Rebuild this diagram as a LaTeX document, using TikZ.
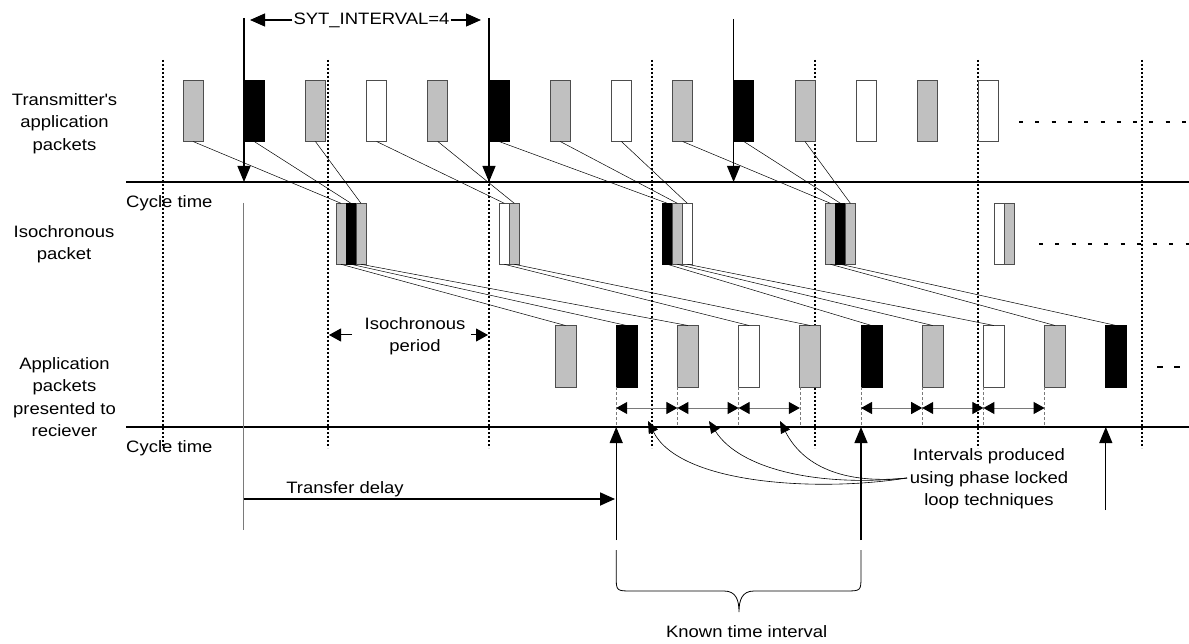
\documentclass[tikz,border=0pt]{standalone}
\usepackage{fontspec}
\setmainfont{Liberation Sans}[FakeStretch=1.12]
\usetikzlibrary{arrows.meta}
\definecolor{pktgray}{HTML}{C0C0C0}
\definecolor{pktedge}{HTML}{4D4D4D}
\definecolor{dimgray}{HTML}{7A7A7A}
\begin{document}
\begin{tikzpicture}[x=1pt,y=-1pt,
  font=\fontsize{16.5pt}{22.5pt}\selectfont,
  pk/.style={draw=pktedge, line width=0.7pt, minimum width=20pt, minimum height=61.5pt, inner sep=0pt, outer sep=0pt, anchor=north west},
  pkg/.style={pk, fill=pktgray},
  pkb/.style={pk, fill=black, draw=black},
  pkw/.style={pk, fill=white},
  sb/.style={draw=pktedge, line width=0.7pt, minimum width=10pt, minimum height=61pt, inner sep=0pt, outer sep=0pt, anchor=north west},
  sbg/.style={sb, fill=pktgray},
  sbb/.style={sb, fill=black, draw=black},
  sbw/.style={sb, fill=white},
  link/.style={line width=0.5pt},
  cycleline/.style={line width=2pt},
  vdots/.style={line width=1.5pt, dash pattern=on 2pt off 2pt},
  hdots/.style={line width=2pt, dash pattern=on 4pt off 12.3pt},
  hdotslow/.style={line width=2pt, dash pattern=on 6pt off 11pt},
  bigarrow/.style={line width=1.2pt, -{Triangle[length=16pt,width=13pt]}},
  fatarrow/.style={line width=1.8pt, -{Triangle[length=15pt,width=13pt]}},
  smallarrow/.style={line width=1pt, -{Triangle[length=12pt,width=13pt]}},
  marker/.style={line width=0.6pt, draw=dimgray, dash pattern=on 3pt off 2pt},
  dbl/.style={line width=1pt, draw=dimgray, {Triangle[length=11pt,width=12pt,color=black]}-{Triangle[length=11pt,width=12pt,color=black]}},
  curv/.style={line width=0.6pt, -{Triangle[length=12pt,width=10pt]}},
  lbl/.style={align=center, inner sep=0pt}
]
\fill[white] (0,0) rectangle (1189,644);
\useasboundingbox (0,0) rectangle (1189,644);

% cycle boundaries (dotted)
\foreach \x in {163,328,489,652,815,978,1142}
  \draw[vdots] (\x,60) -- (\x,448);

% cycle time lines
\coordinate (c1l) at (126,182); \coordinate (c1r) at (1189,182);
\coordinate (c2l) at (126,427); \coordinate (c2r) at (1189,427);
\draw[cycleline] (c1l) -- (c1r);
\draw[cycleline] (c2l) -- (c2r);

% transmitter packets
\foreach \c [count=\i from 0] in {g,b,g,w,g,b,g,w,g,b,g,w,g,w}
  \node[pk\c] (t\i) at ({183+61.2*\i},80) {};

% isochronous packets
\node[sbg] (i1a) at (336,203.3) {};
\node[sbb] (i1b) at (346,203.3) {};
\node[sbg] (i1c) at (356,203.3) {};
\node[sbw] (i2a) at (499.3,203.3) {};
\node[sbg] (i2b) at (509.3,203.3) {};
\node[sbb] (i3a) at (662.3,203.3) {};
\node[sbg] (i3b) at (672.3,203.3) {};
\node[sbw] (i3c) at (682.3,203.3) {};
\node[sbg] (i4a) at (825.4,203.3) {};
\node[sbb] (i4b) at (835.4,203.3) {};
\node[sbg] (i4c) at (845.4,203.3) {};
\node[sbw] (i5a) at (994,203.3) {};
\node[sbg] (i5b) at (1004,203.3) {};

% receiver packets
\foreach \c [count=\i from 0] in {g,b,g,w,g,b,g,w,g,b}
  \node[pk\c, minimum width=21pt] (l\i) at ({555+61.2*\i},325.5) {};

% links
\foreach \a/\b in {t0/i1a,t1/i1b,t2/i1c,t3/i2a,t4/i2b,t5/i3a,t6/i3b,t7/i3c,t8/i4a,t9/i4b,t10/i4c}
  \draw[link] (\a.south) -- (\b.north);
\foreach \a/\b in {i1a/l0,i1b/l1,i1c/l2,i2a/l3,i2b/l4,i3a/l5,i3b/l6,i3c/l7,i4a/l8,i4b/l9}
  \draw[link] (\a.south) -- (\b.north);

% continuation dots
\draw[hdots] (1019,121.7) -- (1189,121.7);
\draw[hdots] (1039,244) -- (1189,244);
\draw[hdotslow] (1157,366.7) -- (1189,366.7);

% SYT arrows
\coordinate (s1) at (244,18); \coordinate (e1) at (244,182);
\coordinate (s2) at (489,18); \coordinate (e2) at (489,182);
\coordinate (s3) at (733.6,19); \coordinate (e3) at (733.6,182);
\draw[bigarrow] (s1) -- (e1);
\draw[bigarrow] (s2) -- (e2);
\draw[bigarrow] (s3) -- (e3);
\node[inner sep=1pt] (syt) at (371.5,20) {SYT\_INTERVAL=4};
\coordinate (sytl) at (250,20); \coordinate (sytr) at (481,20);
\draw[line width=1.2pt, -{Triangle[length=15pt,width=13pt]}] (syt.west) -- (sytl);
\draw[line width=1.2pt, -{Triangle[length=15pt,width=13pt]}] (syt.east) -- (sytr);

% isochronous period
\node[lbl] (isoper) at (415,336) {Isochronous\\period};
\coordinate (ipl) at (329,335); \coordinate (ipr) at (488,335);
\draw[smallarrow] (352,335) -- (ipl);
\draw[smallarrow] (471,335) -- (ipr);

% markers under receiver packets
\coordinate (base) at (0,427);
\coordinate (dbase) at (0,408);
\foreach \i in {1,...,8}
  \draw[marker] (l\i.south west) -- (l\i.south west |- base);
\foreach \a/\b in {1/2,2/3,3/4,5/6,6/7,7/8}
  \draw[dbl] (l\a.south west |- dbase) -- (l\b.south west |- dbase);

% transfer delay
\coordinate (tdv1) at (243.5,203); \coordinate (tdv2) at (243.5,530);
\draw[dimgray, line width=0.6pt] (tdv1) -- (tdv2);
\coordinate (tds) at (243.5,499); \coordinate (tde) at (615,499);
\draw[fatarrow] (tds) -- (tde);
\node (td) at (345,489) {Transfer delay};

% receiver cycle arrows
\coordinate (u1) at (616.2,540); \coordinate (u1t) at (616.2,427);
\coordinate (u2) at (861,540); \coordinate (u2t) at (861,427);
\coordinate (u3) at (1105.8,510); \coordinate (u3t) at (1105.8,427);
\draw[bigarrow] (u1) -- (u1t);
\draw[bigarrow] (u2) -- (u2t);
\draw[bigarrow] (u3) -- (u3t);

% PLL curves
\coordinate (pll) at (907,478);
\coordinate (h1) at (648,421); \coordinate (h2) at (709,421); \coordinate (h3) at (780,421);
\draw[curv] (pll) .. controls (820,492) and (680,485) .. (h1);
\draw[curv] (pll) .. controls (820,487) and (740,470) .. (h2);
\draw[curv] (pll) .. controls (850,484) and (805,470) .. (h3);
\node[lbl] (plltxt) at (989,479) {Intervals produced\\using phase locked\\loop techniques};

% brace
\draw[line width=0.8pt] (616.2,550) -- (616.2,576) .. controls (616.2,591) .. (632,591) -- (724,591)
  .. controls (736,591) and (739,600) .. (739,612)
  .. controls (739,600) and (742,591) .. (754,591) -- (845,591)
  .. controls (861,591) .. (861,576) -- (861,550);
\node (kti) at (746.7,632) {Known time interval};

% row labels
\node[lbl] (txlbl) at (64.5,123.5) {Transmitter\textquotesingle s\\application\\packets};
\node[lbl] (isolbl) at (64,244) {Isochronous\\packet};
\node[lbl] (rxlbl) at (64.5,397) {Application\\packets\\presented to\\reciever};
\node[anchor=west, inner sep=0pt] (ct1) at (126,203) {Cycle time};
\node[anchor=west, inner sep=0pt] (ct2) at (126,448) {Cycle time};
\end{tikzpicture}
\end{document}
